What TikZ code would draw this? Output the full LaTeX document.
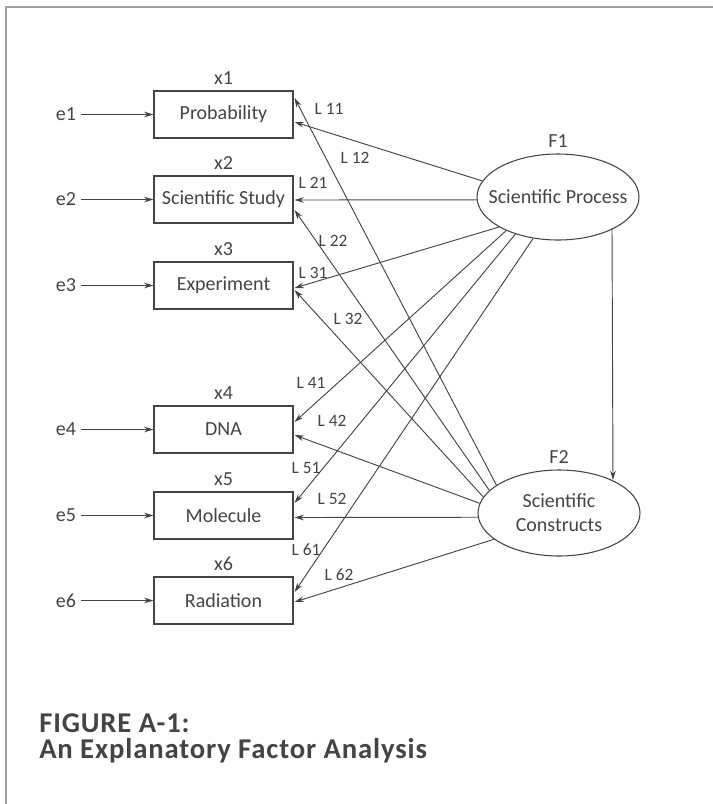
\documentclass[tikz,border=0pt]{standalone}
\usepackage{fontspec}
\setmainfont{Carlito}
\newfontfamily\capfont[LetterSpace=3]{Carlito}
\usetikzlibrary{arrows.meta,calc,shapes.geometric}
\definecolor{ink}{HTML}{444444}
\definecolor{framegray}{HTML}{A0A0A0}
\begin{document}
\begin{tikzpicture}[x=0.75pt,y=-0.75pt,
  every node/.style={text=ink, font=\fontsize{15}{18}\selectfont},
  var/.style={draw=ink, line width=0.8pt, minimum width=104.25pt, minimum height=35.25pt, inner sep=0pt},
  factor/.style={ellipse, draw=ink, line width=0.8pt, minimum width=121.5pt, minimum height=64.5pt, inner sep=0pt, align=center},
  link/.style={draw=ink, line width=0.7pt, -{Stealth[length=7pt,width=4.2pt]}},
  lab/.style={font=\fontsize{13}{15}\selectfont},
  toplab/.style={above=1pt},
  captxt/.style={anchor=north west, inner sep=0pt, align=left, font=\capfont\bfseries\fontsize{21.5}{19.5}\selectfont},
]
\useasboundingbox (0,0) rectangle (713,804);
\draw[framegray, line width=1.4pt] (713,7) -- (6,7) -- (6,804);

% observed variables
\node[var] (x1) at (223.5,114.5) {Probability};
\node[var] (x2) at (223.5,199.5) {Scientific Study};
\node[var] (x3) at (223.5,285.5) {Experiment};
\node[var] (x4) at (223.5,429.5) {DNA};
\node[var] (x5) at (223.5,515.5) {Molecule};
\node[var] (x6) at (223.5,600.5) {Radiation};

\node[toplab] (t1) at (x1.north) {x1};
\node[toplab] (t2) at (x2.north) {x2};
\node[toplab] (t3) at (x3.north) {x3};
\node[toplab] (t4) at (x4.north) {x4};
\node[toplab] (t5) at (x5.north) {x5};
\node[toplab] (t6) at (x6.north) {x6};

% errors
\node (e1) at (66,114.5) {e1};
\node (e2) at (66,199.5) {e2};
\node (e3) at (66,285.5) {e3};
\node (e4) at (66,429.5) {e4};
\node (e5) at (66,515.5) {e5};
\node (e6) at (66,600.5) {e6};
\foreach \i in {1,...,6} {\draw[link] (e\i) -- (x\i);}

% factors
\node[factor] (F1) at (558,197) {\makebox[0pt]{Scientific Process}};
\node[factor] (F2) at (559,513) {\makebox[0pt]{Scientific}\\\makebox[0pt]{Constructs}};
\node[toplab] (tF1) at (F1.north) {F1};
\node[toplab] (tF2) at (F2.north) {F2};

\draw[link] ($(F1)+(54,31)$) -- ($(F2)+(54,-33)$);

% loadings from F1
\draw[link] (F1.168) -- ($(x1.east)+(1,7.5)$);
\draw[link] (F1.182) -- ($(x2.east)+(1,0.5)$);
\draw[link] (F1.207) -- ($(x3.east)+(1,2.5)$);
\draw[link] (F1.213) -- ($(x4.east)+(1,-7.5)$);
\draw[link] (F1.221) -- ($(x5.east)+(1,-12.5)$);
\draw[link] (F1.239) -- ($(x6.east)+(1,-8.5)$);

% loadings from F2
\draw[link] (F2.156) -- ($(x1.east)+(1,-16.5)$);
\draw[link] (F2.162) -- ($(x2.east)+(1,10.5)$);
\draw[link] (F2.168) -- ($(x3.east)+(1,4.5)$);
\draw[link] (F2.173) -- ($(x4.east)+(1,5.5)$);
\draw[link] (F2.183) -- ($(x5.east)+(1,2)$);
\draw[link] (F2.202) -- ($(x6.east)+(1,1.5)$);

% loading labels
\node[lab] (L11) at (329,109) {L 11};
\node[lab] (L12) at (355,158) {L 12};
\node[lab] (L21) at (313,183) {L 21};
\node[lab] (L22) at (333,241) {L 22};
\node[lab] (L31) at (313,273) {L 31};
\node[lab] (L32) at (348,319) {L 32};
\node[lab] (L41) at (311,383) {L 41};
\node[lab] (L42) at (332,421) {L 42};
\node[lab] (L51) at (306,468) {L 51};
\node[lab] (L52) at (332,499) {L 52};
\node[lab] (L61) at (306,550) {L 61};
\node[lab] (L62) at (339,575) {L 62};

% caption
\node[captxt] (cap) at (39,713) {FIGURE A-1:\\An Explanatory Factor Analysis};
\end{tikzpicture}
\end{document}
